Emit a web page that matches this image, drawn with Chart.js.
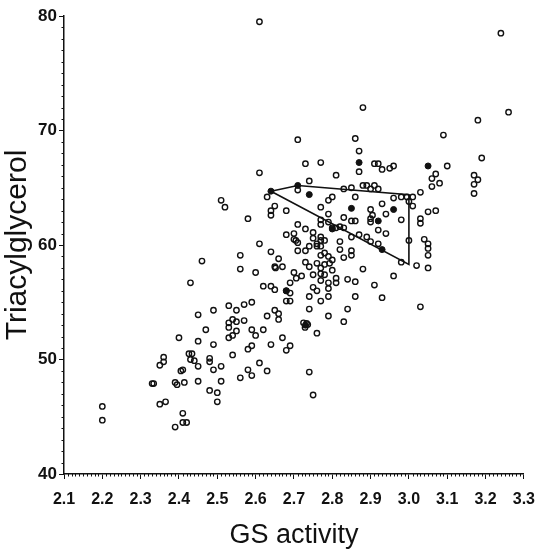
<!DOCTYPE html>
<html>
<head>
<meta charset="utf-8">
<script src="https://cdn.jsdelivr.net/npm/chart.js@4/dist/chart.umd.min.js"></script>
<style>
  html, body { margin: 0; padding: 0; background: #fff; }
  #wrap { width: 546px; height: 554px; }
</style>
</head>
<body>
<div id="wrap"><canvas id="c" width="546" height="554"></canvas></div>
<script>
// GS activity (x) and triacylglycerol (y) for each open-circle subject
const gsActivity = [
  2.46, 2.56, 2.56, 2.43, 2.53, 2.55, 2.57, 2.49, 2.45, 2.54, 2.53, 2.55, 2.53, 2.55, 2.54, 2.53, 2.57, 2.47, 2.40, 2.45,
  2.49, 2.58, 2.54, 2.426, 2.434, 2.43, 2.44, 2.45, 2.36, 2.36, 2.35, 2.48, 2.48, 2.51, 2.49, 2.405, 2.41, 2.58, 2.56, 2.33,
  2.334, 2.39, 2.395, 2.414, 2.45, 2.51, 2.48, 2.50, 2.50, 2.35, 2.365, 2.20, 2.20, 2.41, 2.41, 2.42, 2.39,
  2.61, 2.64, 2.66, 2.60, 2.65, 2.652, 2.67, 2.71, 2.705, 2.71, 2.73, 2.74, 2.76, 2.77, 2.78, 2.77, 2.78, 2.79, 2.73, 2.74,
  2.76, 2.77, 2.80, 2.793, 2.78, 2.83, 2.82, 2.85, 2.85, 2.80, 2.77, 2.78, 2.75, 2.70, 2.72, 2.706, 2.69, 2.77, 2.79, 2.79,
  2.81, 2.81, 2.84, 2.86, 2.75, 2.76, 2.74, 2.77, 2.79, 2.62, 2.64, 2.65, 2.68, 2.69, 2.68, 2.69, 2.59, 2.65, 2.66, 2.66,
  2.63, 2.74, 2.725, 2.733, 2.736, 2.729, 2.76, 2.79, 2.83, 2.59, 2.60, 2.62, 2.67, 2.69, 2.64, 2.59, 2.68, 2.61, 2.59, 2.63,
  2.74, 2.75,
  2.71, 2.73, 2.77, 2.61, 2.81, 2.74, 2.71, 2.63, 2.80, 2.79, 2.65, 2.64, 2.64, 2.68, 2.77, 2.58, 2.79, 2.77, 2.77, 2.79,
  2.80, 2.71, 2.73, 2.75, 2.68, 2.70, 2.70, 2.75, 2.77, 2.76, 2.77,
  2.88, 2.86, 2.87, 2.91, 2.92, 2.93, 2.95, 2.96, 2.87, 3.06, 3.06, 3.07, 2.83, 2.85, 2.88, 2.89, 2.91, 2.92, 2.90, 2.86,
  2.96, 2.98, 2.995, 3.01, 3.03, 3.00, 3.01, 2.93, 2.90, 2.905, 2.94, 2.83, 2.85, 2.86, 2.90, 2.90, 2.98, 3.03, 3.03, 3.05,
  3.07, 2.81, 2.82, 2.83, 2.92, 2.94, 2.85, 2.87, 2.89, 2.90, 2.92, 2.82, 3.00, 3.04, 3.05,
  3.24, 3.26, 3.18, 3.09, 3.19, 3.10, 3.08, 3.17, 3.18, 3.17, 3.17, 3.05, 3.05, 3.05, 3.02,
  2.61, 2.51, 2.52, 2.88, 2.91, 2.93, 2.96, 2.98, 2.86, 2.84, 3.03
];
const triacylglycerol = [
  58.6, 59.1, 57.9, 56.7, 54.7, 54.3, 54.8, 54.3, 53.9, 53.5, 53.2, 53.3, 52.8, 52.5, 52.1, 51.9, 53.4, 52.6, 51.9, 51.6,
  51.3, 50.9, 50.4, 50.5, 50.5, 50.0, 49.9, 49.4, 50.2, 49.8, 49.5, 50.1, 49.8, 49.4, 49.1, 49.0, 49.1, 49.1, 48.4, 47.9,
  47.9, 48.0, 47.8, 48.0, 48.1, 48.1, 47.3, 47.1, 46.3, 46.1, 46.3, 45.9, 44.7, 45.3, 44.5, 44.5, 44.1,
  60.1, 59.4, 58.8, 57.6, 58.1, 58.0, 58.1, 60.2, 60.4, 59.5, 59.5, 59.9, 60.1, 60.4, 60.4, 59.1, 59.3, 59.0, 58.5, 58.1,
  58.4, 58.0, 58.7, 58.4, 58.3, 58.9, 59.6, 59.5, 59.1, 57.8, 57.5, 57.4, 57.4, 57.6, 57.3, 57.1, 56.7, 56.9, 56.7, 56.2,
  57.1, 56.7, 57.0, 56.8, 56.3, 56.0, 55.5, 55.1, 55.5, 56.4, 56.4, 56.1, 56.0, 55.8, 55.1, 55.1, 55.0, 54.3, 54.0, 53.5,
  53.8, 54.4, 53.2, 53.15, 53.05, 52.8, 52.3, 53.8, 53.3, 52.6, 52.1, 52.6, 51.9, 51.2, 51.3, 51.2, 50.8, 49.7, 48.6, 49.0,
  48.9, 46.9,
  69.2, 67.1, 67.2, 66.3, 66.1, 65.6, 64.8, 64.2, 64.2, 63.9, 63.4, 63.0, 62.6, 63.0, 63.3, 62.3, 62.7, 62.2, 61.8, 62.0,
  61.5, 61.8, 61.4, 61.1, 60.9, 61.0, 60.5, 60.6, 60.7, 59.9, 59.9,
  72.0, 69.3, 68.2, 67.1, 67.1, 66.6, 66.7, 66.9, 66.4, 65.8, 65.1, 66.2, 64.9, 65.0, 65.2, 65.2, 65.2, 64.9, 64.9, 64.2,
  64.1, 64.2, 64.2, 64.2, 64.6, 63.8, 63.4, 63.6, 63.1, 62.6, 62.7, 62.4, 62.1, 62.1, 62.3, 62.0, 62.2, 62.3, 61.9, 62.9,
  63.0, 61.5, 61.6, 61.5, 61.3, 61.0, 60.7, 60.9, 60.7, 60.3, 60.1, 60.3, 60.4, 60.5, 60.1,
  78.5, 71.6, 70.9, 69.6, 67.6, 66.9, 65.4, 66.1, 65.7, 65.3, 64.5, 59.7, 59.1, 58.0, 58.2,
  79.5, 63.9, 63.3, 57.9, 56.5, 55.4, 57.3, 58.5, 55.5, 54.4, 54.6
];

// Subjects drawn as solid dots
const filledGs = [2.64, 2.71, 2.74, 2.87, 3.05, 2.85, 2.96, 2.92, 2.93, 2.80, 2.68, 2.73];
const filledTg = [64.7, 65.2, 64.4, 67.2, 66.9, 63.2, 63.1, 62.1, 59.6, 61.4, 56.0, 53.0];

// Closed outline joining the group vertices
const outlineGs = [2.64, 2.71, 3.00, 3.00, 2.64];
const outlineTg = [64.7, 65.2, 64.4, 58.3, 64.7];

// Axis ranges and tick labels
const xMin = 2.1, xMax = 3.3, xStep = 0.1;
const yMin = 40, yMax = 80, yStep = 10;
const xTickLabels = ['2.1', '2.2', '2.3', '2.4', '2.5', '2.6', '2.7', '2.8', '2.9', '3.0', '3.1', '3.2', '3.3'];
const yTickLabels = ['40', '50', '60', '70', '80'];

const toPoints = (xs, ys) => xs.map((x, i) => ({ x: x, y: ys[i] }));

const INK = '#111';
const FONT = '"Liberation Sans", Arial, Helvetica, sans-serif';

// Short minor ticks between the labelled ones
const minorTicks = {
  id: 'minorTicks',
  afterDraw(chart) {
    const { ctx } = chart;
    const x = chart.scales.x, y = chart.scales.y;
    ctx.save();
    ctx.strokeStyle = INK;
    ctx.lineWidth = 1;
    ctx.beginPath();
    for (let i = 0; i <= 120; i++) {
      if (i % 10 === 0) continue;
      const px = Math.round(x.getPixelForValue(xMin + i * 0.01)) + 0.5;
      ctx.moveTo(px, x.top);
      ctx.lineTo(px, x.top + 2.5);
    }
    for (let v = yMin; v <= yMax; v++) {
      if (v % 10 === 0) continue;
      const py = Math.round(y.getPixelForValue(v)) + 0.5;
      ctx.moveTo(y.right, py);
      ctx.lineTo(y.right - 2.5, py);
    }
    ctx.stroke();
    ctx.restore();
  }
};

new Chart(document.getElementById('c'), {
  type: 'scatter',
  data: {
    datasets: [
      {
        type: 'line',
        data: toPoints(outlineGs, outlineTg),
        borderColor: INK,
        borderWidth: 1.6,
        pointRadius: 0,
        fill: false,
        tension: 0,
        order: 0
      },
      {
        data: toPoints(filledGs, filledTg),
        pointRadius: 3,
        pointBackgroundColor: INK,
        pointBorderColor: INK,
        pointBorderWidth: 1,
        order: 1
      },
      {
        data: toPoints(gsActivity, triacylglycerol),
        pointRadius: 2.7,
        pointBackgroundColor: 'rgba(255,255,255,0)',
        pointBorderColor: INK,
        pointBorderWidth: 1.4,
        order: 2
      }
    ]
  },
  options: {
    responsive: false,
    animation: false,
    events: [],
    layout: { padding: { top: 16, right: 18, bottom: 0, left: 0 } },
    plugins: { legend: { display: false }, tooltip: { enabled: false } },
    scales: {
      x: {
        type: 'linear',
        position: 'bottom',
        min: xMin,
        max: xMax,
        afterFit(s) { s.height = 80; },
        ticks: {
          stepSize: xStep,
          autoSkip: false,
          maxRotation: 0,
          padding: 11,
          color: INK,
          font: { family: FONT, size: 16, weight: 'bold' },
          callback: (v) => xTickLabels[Math.round((v - xMin) / xStep)]
        },
        grid: { drawOnChartArea: false, drawTicks: true, tickLength: 5, color: INK, lineWidth: 1 },
        border: { display: true, color: INK, width: 1.5 },
        title: {
          display: true,
          text: 'GS activity',
          color: INK,
          font: { family: FONT, size: 27 },
          padding: { top: 0, bottom: 2 }
        }
      },
      y: {
        type: 'linear',
        min: yMin,
        max: yMax,
        afterFit(s) { s.width = 64; },
        ticks: {
          stepSize: yStep,
          padding: 2,
          color: INK,
          font: { family: FONT, size: 17, weight: 'bold' },
          callback: (v) => yTickLabels[Math.round((v - yMin) / yStep)]
        },
        grid: { drawOnChartArea: false, drawTicks: true, tickLength: 5, color: INK, lineWidth: 1 },
        border: { display: true, color: INK, width: 1.5 },
        title: {
          display: true,
          text: 'Triacylglycerol',
          color: INK,
          font: { family: FONT, size: 30 },
          padding: { top: 0, bottom: 0 }
        }
      }
    }
  },
  plugins: [minorTicks]
});
</script>
</body>
</html>
